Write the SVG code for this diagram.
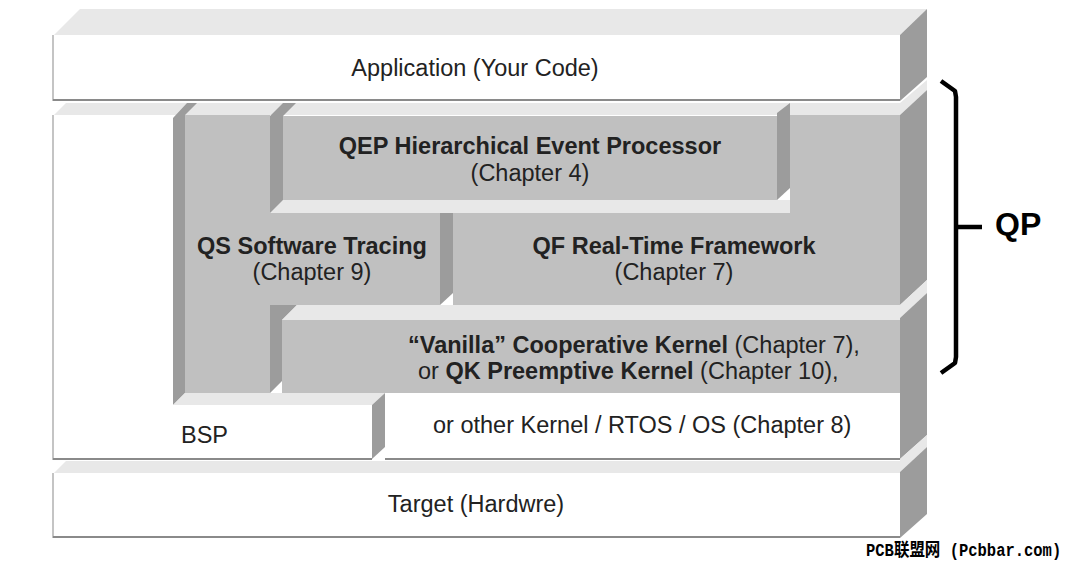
<svg xmlns="http://www.w3.org/2000/svg" width="1069" height="565" viewBox="0 0 1069 565">
  <style>
    .front-w { fill: #ffffff; }
    .front-g { fill: #c0c0c0; }
    .top { fill: #e8e8e8; }
    .side { fill: #9c9c9c; }
    .edge { stroke: #8a8a8a; stroke-width: 2; fill: none; }
    .ledge { stroke: #c4c4c4; stroke-width: 2; fill: none; }
    .t { font-family: "Liberation Sans", Arial, Helvetica, sans-serif; font-size: 23.5px; fill: #222222; }
    .b { font-weight: bold; }
    .brace { fill: none; stroke: #000; stroke-width: 4.5; stroke-linejoin: round; }
  </style>
  <rect x="0" y="0" width="1069" height="565" fill="#ffffff"/>

  <!-- Application -->
  <g id="application">
    <polygon class="top" points="54,35 80,9 927,9 900,35"/>
    <rect class="front-w" x="54" y="35" width="846" height="65"/>
    <line class="ledge" x1="53" y1="35" x2="53" y2="101"/>
    <line class="edge" x1="53" y1="100" x2="900" y2="100"/>
    <polygon class="side" points="900,35 927,9 927,77 900,101"/>
    <text class="t" x="475" y="76" text-anchor="middle">Application (Your Code)</text>
  </g>

  <!-- middle layer top strips and right side -->
  <g id="middle-layer-shell">
    <polygon class="top" points="54,115 66,103 900,103 900,115"/>
    <polygon class="top" points="900,103 927,80 927,90 900,115"/>
    <polygon class="side" points="900,115 927,90 927,280 900,305"/>
    <polygon class="top" points="900,305 927,280 927,293 900,318"/>
    <polygon class="side" points="900,318 927,293 927,435 900,459"/>
    <polygon class="top" points="900,459 927,435 927,447 900,472"/>
  </g>

  <!-- BSP -->
  <g id="bsp">
    <polygon class="front-w" points="54,115 173,115 173,405 372,405 372,459 54,459"/>
    <line class="ledge" x1="53" y1="115" x2="53" y2="460"/>
    <line class="edge" x1="53" y1="459" x2="372" y2="459"/>
    <polygon class="side" points="173,405 173,118 187,103 197,103 185,115 185,393"/>
    <polygon class="top" points="173,405 185,393 385,393 372,405"/>
    <polygon class="side" points="372,405 385,393 385,447 372,459"/>
    <text class="t" x="181" y="443">BSP</text>
  </g>

  <!-- QS -->
  <g id="qs">
    <polygon class="top" points="270,213 283,200 453,200 440,213"/>
    <polygon class="front-g" points="185,115 270,115 270,213 440,213 440,305 270,305 270,393 185,393"/>
    <polygon class="side" points="270,213 270,116 283,103 296,103 283,116 283,200"/>
    <polygon class="side" points="440,305 440,213 453,200 453,293"/>
    <polygon class="side" points="270,393 270,305 297,305 282,320 282,381"/>
    <text class="t b" x="312" y="254" text-anchor="middle">QS Software Tracing</text>
    <text class="t" x="312" y="280" text-anchor="middle">(Chapter 9)</text>
  </g>

  <!-- QEP -->
  <g id="qep">
    <rect class="front-g" x="283" y="116" width="494" height="84"/>
    <polygon class="top" points="283,200 790,200 790,213 283,213"/>
    <polygon class="side" points="777,200 777,113 790,103 790,188"/>
    <text class="t b" x="530" y="154" text-anchor="middle">QEP Hierarchical Event Processor</text>
    <text class="t" x="530" y="181" text-anchor="middle">(Chapter 4)</text>
  </g>

  <!-- QF -->
  <g id="qf">
    <polygon class="front-g" points="790,115 900,115 900,305 453,305 453,213 790,213"/>
    <text class="t b" x="674" y="254" text-anchor="middle">QF Real-Time Framework</text>
    <text class="t" x="674" y="280" text-anchor="middle">(Chapter 7)</text>
  </g>

  <!-- Kernel -->
  <g id="kernel">
    <polygon class="top" points="282,320 297,305 900,305 900,320"/>
    <rect class="front-g" x="282" y="320" width="618" height="73"/>
    <text class="t" x="408" y="353"><tspan class="b">“Vanilla” Cooperative Kernel</tspan> (Chapter 7),</text>
    <text class="t" x="418" y="379">or <tspan class="b">QK Preemptive Kernel</tspan> (Chapter 10),</text>
  </g>

  <!-- RTOS -->
  <g id="rtos">
    <rect class="front-w" x="385" y="393" width="515" height="66"/>
    <line class="edge" x1="385" y1="459" x2="900" y2="459"/>
    <text class="t" x="433" y="433">or other Kernel / RTOS / OS (Chapter 8)</text>
  </g>

  <!-- Target -->
  <g id="target">
    <polygon class="top" points="54,473 66,461 900,461 900,473"/>
    <rect class="front-w" x="54" y="473" width="846" height="64"/>
    <line class="ledge" x1="53" y1="473" x2="53" y2="538"/>
    <line class="edge" x1="53" y1="537" x2="900" y2="537"/>
    <polygon class="side" points="900,472 927,447 927,514 900,538"/>
    <text class="t" x="476" y="512" text-anchor="middle">Target (Hardwre)</text>
  </g>

  <!-- QP brace -->
  <g id="qp">
    <path class="brace" d="M941,81 L955,91 L956,97 L956,357 L955,363 L941,373"/>
    <path class="brace" d="M956,227 L982,227"/>
    <text class="t b" x="995" y="235" style="font-size:32px;fill:#000">QP</text>
  </g>

  <g id="watermark">
    <text transform="translate(866,556) scale(1,1.2)" style="font-family:'Liberation Mono','Noto Sans CJK SC',monospace;font-size:15.5px;font-weight:bold;fill:#000">PCB联盟网 (Pcbbar.com)</text>
  </g>
</svg>
